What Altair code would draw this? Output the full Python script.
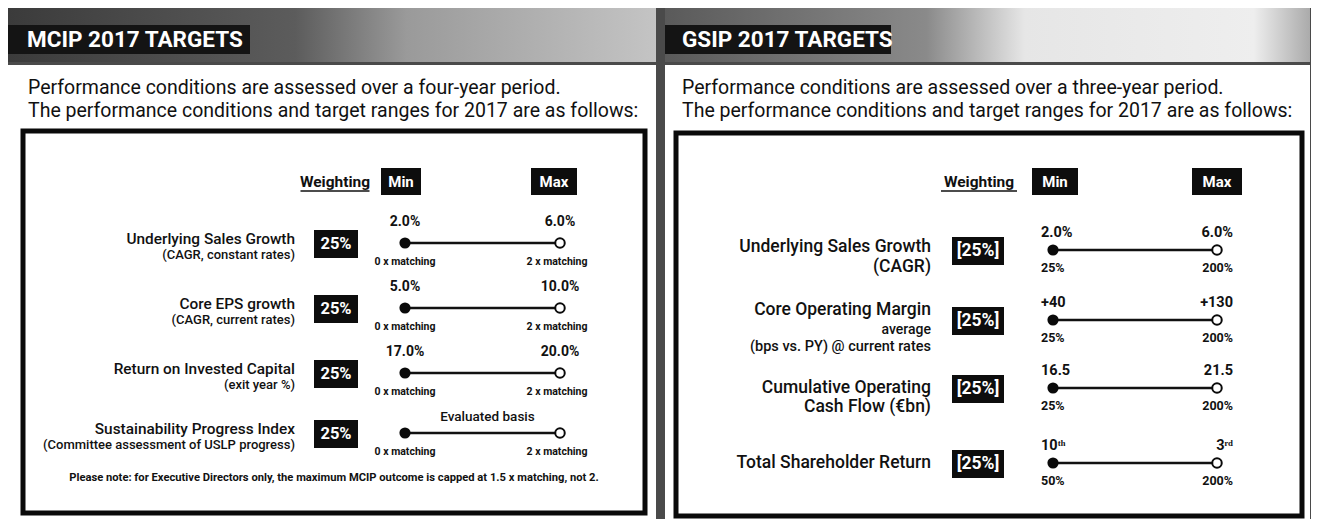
import altair as alt
import pandas as pd

FONT = "Roboto"

# ------------------------------------------------------------------ content
panel_titles = ["MCIP 2017 TARGETS", "GSIP 2017 TARGETS"]
intro_line1 = ["Performance conditions are assessed over a four-year period.",
               "Performance conditions are assessed over a three-year period."]
intro_line2 = ["The performance conditions and target ranges for 2017 are as follows:",
               "The performance conditions and target ranges for 2017 are as follows:"]
col_heads = ["Weighting", "Min", "Max"]

mcip_measures = ["Underlying Sales Growth", "Core EPS growth",
                 "Return on Invested Capital", "Sustainability Progress Index"]
mcip_details = ["(CAGR, constant rates)", "(CAGR, current rates)",
                "(exit year %)", "(Committee assessment of USLP progress)"]
mcip_weights = ["25%", "25%", "25%", "25%"]
mcip_min = ["2.0%", "5.0%", "17.0%", ""]
mcip_max = ["6.0%", "10.0%", "20.0%", ""]
mcip_span = ["", "", "", "Evaluated basis"]
mcip_min_payout = ["0 x matching", "0 x matching", "0 x matching", "0 x matching"]
mcip_max_payout = ["2 x matching", "2 x matching", "2 x matching", "2 x matching"]
mcip_note = ("Please note: for Executive Directors only, the maximum MCIP outcome "
             "is capped at 1.5 x matching, not 2.")

gsip_measures = ["Underlying Sales Growth", "Core Operating Margin",
                 "Cumulative Operating", "Total Shareholder Return"]
gsip_details = [["(CAGR)"], ["average", "(bps vs. PY) @ current rates"],
                ["Cash Flow (€bn)"], []]
gsip_weights = ["[25%]", "[25%]", "[25%]", "[25%]"]
gsip_min = ["2.0%", "+40", "16.5", "10ᵗʰ"]
gsip_max = ["6.0%", "+130", "21.5", "3ʳᵈ"]
gsip_min_payout = ["25%", "25%", "25%", "50%"]
gsip_max_payout = ["200%", "200%", "200%", "200%"]

# ------------------------------------------------------------------ layout (reference pixels)
LAY = {
    "mcip": dict(title_box=(8, 250), title_x=27, intro_x=28,
                 box=(23, 131, 645, 513), label_x=295, label_size=15.4, det_size=13,
                 weight_x=336, weight_w=44, weight_size=16.5,
                 min_x=405, max_x=560, pay_min_x=405, pay_max_x=557,
                 tracks=[243, 308, 373, 433], weighting_x=335, weighting_w=69,
                 min_box=(401, 40), max_box=(554, 46), val_size=14, pay_size=10.5),
    "gsip": dict(title_box=(663, 891), title_x=682, intro_x=682,
                 box=(676, 133, 1302, 516), label_x=931, label_size=17.5, det_size=14.5,
                 weight_x=978, weight_w=52, weight_size=17.5,
                 min_x=1053, max_x=1217, val_min_x=1041, val_max_x=1233,
                 pay_min_x=1041, pay_max_x=1233,
                 tracks=[250, 320, 388, 463], weighting_x=979, weighting_w=76,
                 min_box=(1055, 46), max_box=(1217, 50), val_size=14.5, pay_size=12.5),
}

texts, rects, boxes, rules, dots, rings = [], [], [], [], [], []


def add_text(x, y, t, size, align="left", weight="normal", color="#111111", baseline="middle"):
    texts.append(dict(x=x, y=y, text=t, size=size, color=color, align=align,
                      weight=str(weight), baseline=baseline))


for p, key in enumerate(["mcip", "gsip"]):
    L = LAY[key]
    add_text(L["title_x"], 47, panel_titles[p], 22.5, weight="bold", color="white",
             baseline="alphabetic")
    add_text(L["intro_x"], 94, intro_line1[p], 19.5, baseline="alphabetic")
    add_text(L["intro_x"], 117, intro_line2[p], 19.5, baseline="alphabetic")
    boxes.append(dict(x=L["box"][0], y=L["box"][1], x2=L["box"][2], y2=L["box"][3]))
    add_text(L["weighting_x"], 182, col_heads[0], 15.5, align="center", weight="bold")
    rules.append(dict(x=L["weighting_x"] - L["weighting_w"] / 2,
                      x2=L["weighting_x"] + L["weighting_w"] / 2, y=191, w=1.6))
    for (cx, w), lab in [(L["min_box"], col_heads[1]), (L["max_box"], col_heads[2])]:
        rects.append(dict(x=cx - w / 2, x2=cx + w / 2, y=168, y2=195))
        add_text(cx, 182, lab, 15, align="center", weight="bold", color="white")

# ---- MCIP rows
mcip_rows = list(zip(mcip_measures, mcip_details, mcip_weights, mcip_min, mcip_max,
                     mcip_span, mcip_min_payout, mcip_max_payout))
L = LAY["mcip"]
for i, (m, d, wt, mn, mx, sp, pmn, pmx) in enumerate(mcip_rows):
    ty = L["tracks"][i]
    add_text(L["label_x"], ty - 4, m, L["label_size"], align="right", weight=500)
    add_text(L["label_x"], ty + 12, d, L["det_size"], align="right", weight=500)
    rects.append(dict(x=L["weight_x"] - L["weight_w"] / 2, x2=L["weight_x"] + L["weight_w"] / 2,
                      y=ty - 13, y2=ty + 15))
    add_text(L["weight_x"], ty + 1, wt, L["weight_size"], align="center", weight="bold", color="white")
    rules.append(dict(x=L["min_x"], x2=L["max_x"], y=ty, w=2.6))
    dots.append(dict(x=L["min_x"], y=ty))
    rings.append(dict(x=L["max_x"], y=ty))
    if mn:
        add_text(L["min_x"], ty - 21, mn, L["val_size"], align="center", weight="bold")
    if mx:
        add_text(L["max_x"], ty - 21, mx, L["val_size"], align="center", weight="bold")
    if sp:
        add_text((L["min_x"] + L["max_x"]) / 2 + 5, ty - 16, sp, 13.5, align="center", weight=500)
    add_text(L["pay_min_x"], ty + 19, pmn, L["pay_size"], align="center", weight="bold")
    add_text(L["pay_max_x"], ty + 19, pmx, L["pay_size"], align="center", weight="bold")
add_text(334, 478, mcip_note, 11.2, align="center", weight="bold")

# ---- GSIP rows
gsip_rows = list(zip(gsip_measures, gsip_details, gsip_weights, gsip_min, gsip_max,
                     gsip_min_payout, gsip_max_payout))
L = LAY["gsip"]
label_offsets = [(-3, [17]), (-10, [10, 27]), (0, [19]), (0, [])]
detail_sizes = [[17.5], [14, 14.5], [17.5], []]
for i, (m, dl, wt, mn, mx, pmn, pmx) in enumerate(gsip_rows):
    ty = L["tracks"][i]
    off, doffs = label_offsets[i]
    add_text(L["label_x"], ty + off, m, L["label_size"], align="right", weight=500)
    for d, do, ds in zip(dl, doffs, detail_sizes[i]):
        add_text(L["label_x"], ty + do, d, ds, align="right", weight=500)
    rects.append(dict(x=L["weight_x"] - L["weight_w"] / 2, x2=L["weight_x"] + L["weight_w"] / 2,
                      y=ty - 13, y2=ty + 15))
    add_text(L["weight_x"], ty + 1, wt, L["weight_size"], align="center", weight="bold", color="white")
    rules.append(dict(x=L["min_x"], x2=L["max_x"], y=ty, w=2.6))
    dots.append(dict(x=L["min_x"], y=ty))
    rings.append(dict(x=L["max_x"], y=ty))
    add_text(L["val_min_x"], ty - 17, mn, L["val_size"], align="left", weight="bold")
    add_text(L["val_max_x"], ty - 17, mx, L["val_size"], align="right", weight="bold")
    add_text(L["pay_min_x"], ty + 18, pmn, L["pay_size"], align="left", weight="bold")
    add_text(L["pay_max_x"], ty + 18, pmx, L["pay_size"], align="right", weight="bold")

# ------------------------------------------------------------------ chart
X = alt.Scale(domain=[8, 1311], nice=False, zero=False)
Y = alt.Scale(domain=[8, 519], nice=False, zero=False, reverse=True)


def enc_xy(**kw):
    return dict(x=alt.X("x:Q", scale=X, axis=None), y=alt.Y("y:Q", scale=Y, axis=None), **kw)


layers = []

band_l = pd.DataFrame([dict(x=0, x2=656, y=0, y2=64)])
band_r = pd.DataFrame([dict(x=665, x2=1319, y=0, y2=64)])
grad_l = alt.LinearGradient(gradient="linear", x1=0, x2=1, y1=0, y2=0, stops=[
    alt.GradientStop(color="#3a3a3a", offset=0), alt.GradientStop(color="#5c5c5c", offset=0.45),
    alt.GradientStop(color="#9a9a9a", offset=0.62), alt.GradientStop(color="#c4c4c4", offset=1)])
grad_r = alt.LinearGradient(gradient="linear", x1=0, x2=1, y1=0, y2=0, stops=[
    alt.GradientStop(color="#5a5a5a", offset=0), alt.GradientStop(color="#8a8a8a", offset=0.4),
    alt.GradientStop(color="#e6e6e6", offset=0.55), alt.GradientStop(color="#eeeeee", offset=0.9),
    alt.GradientStop(color="#a0a0a0", offset=1)])
for df, g in [(band_l, grad_l), (band_r, grad_r)]:
    layers.append(alt.Chart(df).mark_rect(fill=g, clip=True).encode(
        **enc_xy(x2="x2:Q", y2="y2:Q")))

title_boxes = pd.DataFrame([dict(x=LAY[k]["title_box"][0], x2=LAY[k]["title_box"][1], y=25, y2=54)
                            for k in ["mcip", "gsip"]])
layers.append(alt.Chart(title_boxes).mark_rect(color="#141414", clip=True).encode(
    **enc_xy(x2="x2:Q", y2="y2:Q")))

frame = pd.DataFrame([dict(x=0, x2=1319, y=62, y2=65),
                      dict(x=0, x2=8, y=0, y2=527),
                      dict(x=656, x2=665, y=0, y2=527),
                      dict(x=1310, x2=1319, y=0, y2=527)])
layers.append(alt.Chart(frame).mark_rect(color="#4a4a4a", clip=True).encode(
    **enc_xy(x2="x2:Q", y2="y2:Q")))

layers.append(alt.Chart(pd.DataFrame(boxes)).mark_rect(
    fill="white", stroke="#0a0a0a", strokeWidth=5, clip=True).encode(
    **enc_xy(x2="x2:Q", y2="y2:Q")))

layers.append(alt.Chart(pd.DataFrame(rects)).mark_rect(color="#0d0d0d").encode(
    **enc_xy(x2="x2:Q", y2="y2:Q")))

layers.append(alt.Chart(pd.DataFrame(rules)).mark_rule(color="#111111").encode(
    **enc_xy(x2="x2:Q", strokeWidth=alt.StrokeWidth("w:Q", scale=None))))

layers.append(alt.Chart(pd.DataFrame(dots)).mark_point(
    shape="circle", filled=True, color="#0a0a0a", size=125, opacity=1).encode(**enc_xy()))
layers.append(alt.Chart(pd.DataFrame(rings)).mark_point(
    shape="circle", filled=True, fill="white", stroke="#0a0a0a", strokeWidth=2,
    size=90, opacity=1).encode(**enc_xy()))

tdf = pd.DataFrame(texts)
for (align, weight, baseline), g in tdf.groupby(["align", "weight", "baseline"]):
    fw = int(weight) if weight.isdigit() else weight
    layers.append(alt.Chart(g.reset_index(drop=True)).mark_text(
        align=align, baseline=baseline, font=FONT, fontWeight=fw).encode(
        **enc_xy(text="text:N", size=alt.Size("size:Q", scale=None),
                 color=alt.Color("color:N", scale=None))))

chart = alt.layer(*layers).properties(
    width=1303, height=511, padding=0, autosize=alt.AutoSizeParams(type="none"),
    background="white"
).configure_view(stroke=None)

chart.save("out.html", embed_options={"renderer": "svg", "actions": False})
